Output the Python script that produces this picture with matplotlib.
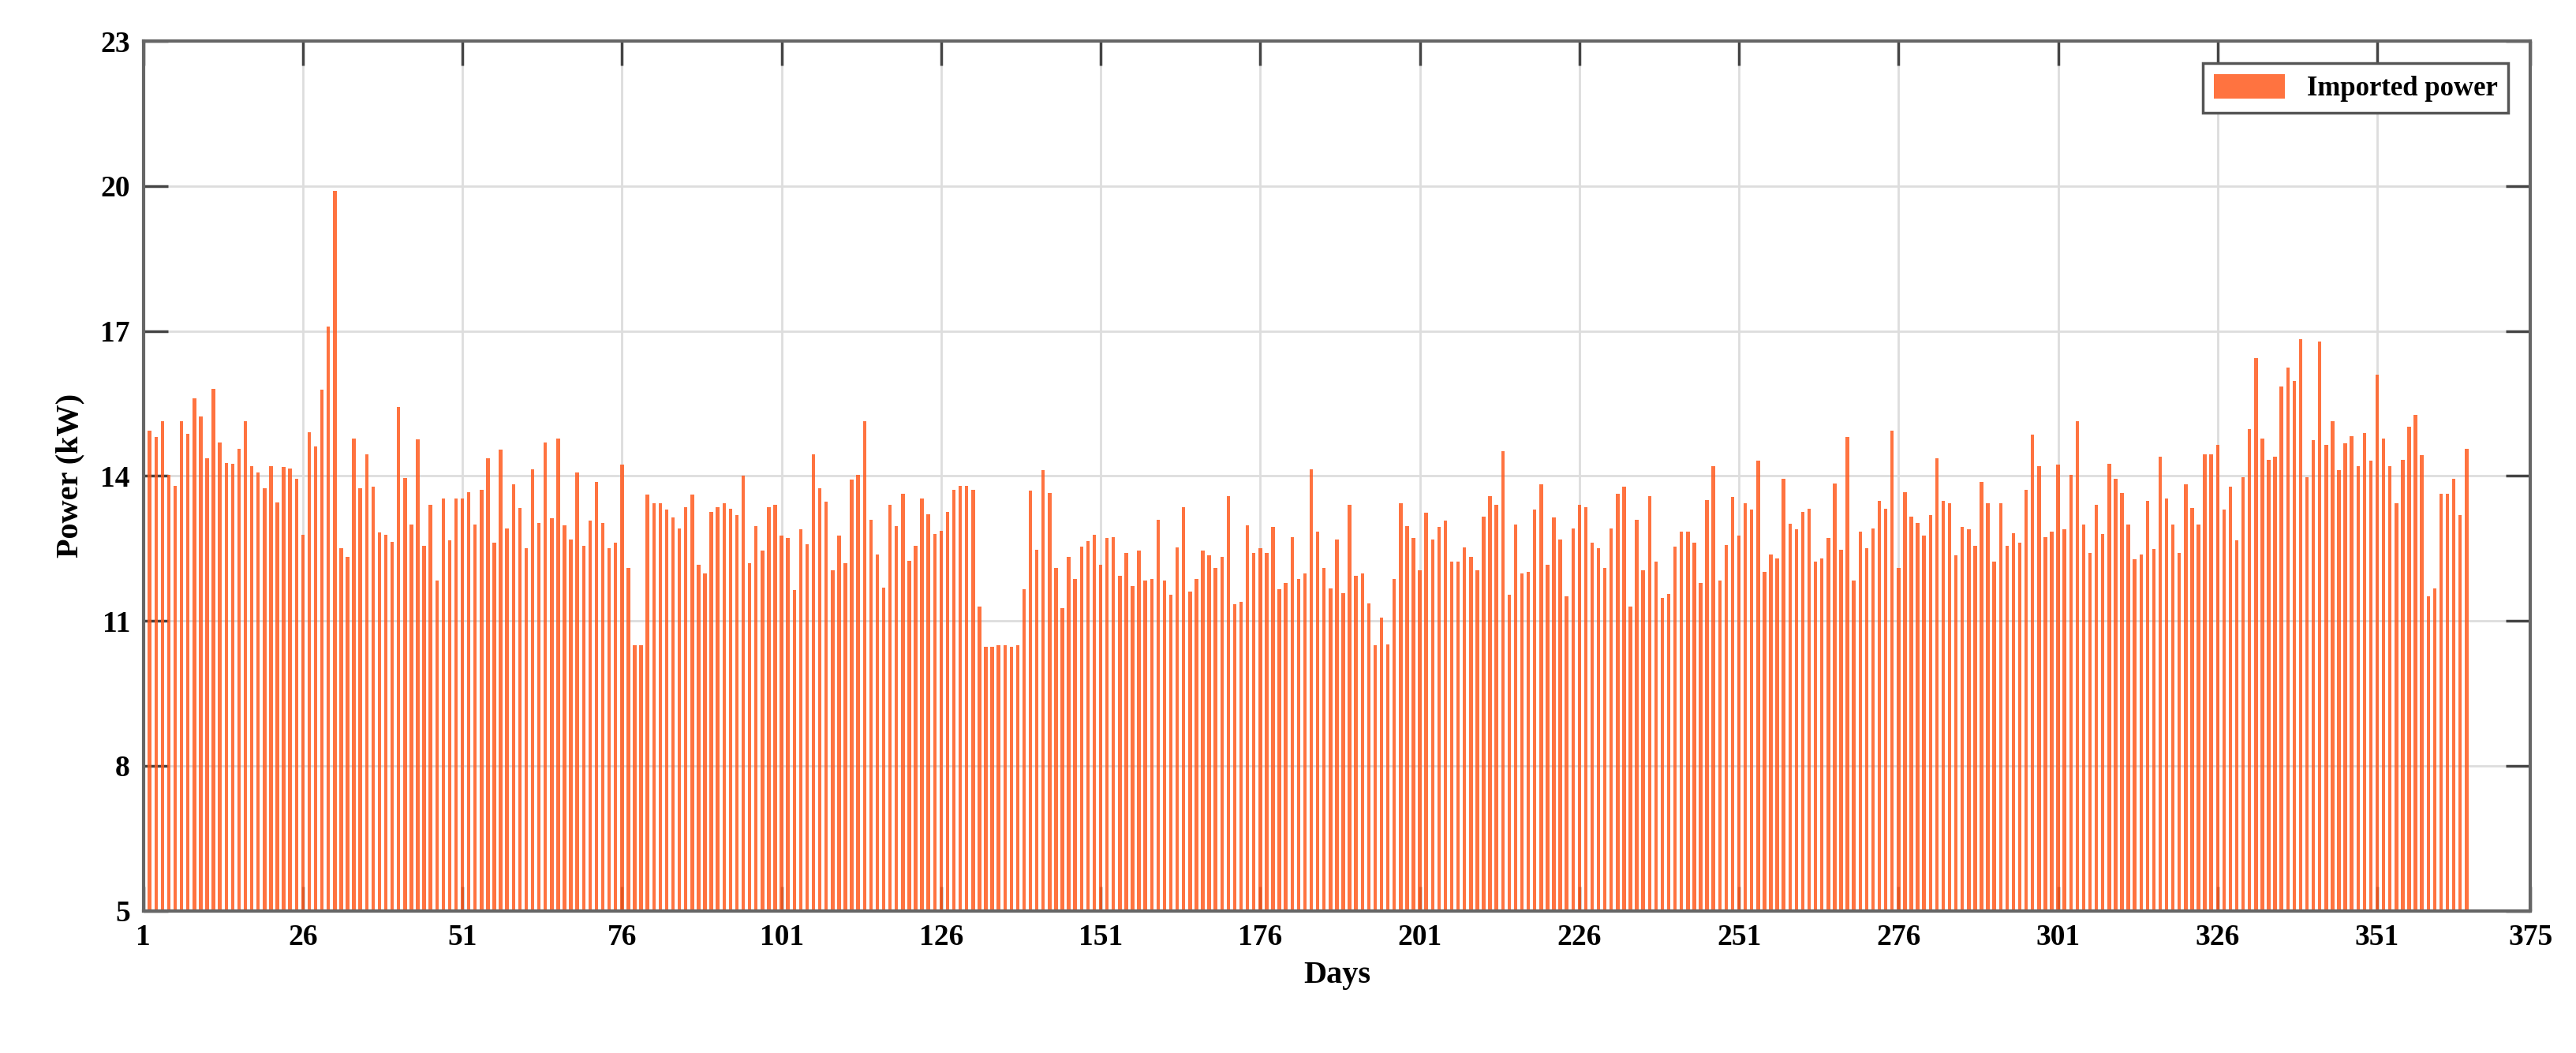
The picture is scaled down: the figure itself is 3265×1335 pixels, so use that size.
import numpy as np
import matplotlib.pyplot as plt

# daily imported power (kW), days 1..365
power_1_47 = [16.05, 14.94, 14.8, 15.14, 14.03, 13.8, 15.14, 14.88, 15.6, 15.23,
              14.37, 15.81, 14.69, 14.27, 14.25, 14.56, 15.13, 14.2, 14.07, 13.74,
              14.21, 13.45, 14.18, 14.15, 13.94, 12.79, 14.9, 14.61, 15.78, 17.1,
              19.9, 12.5, 12.32, 14.78, 13.74, 14.44, 13.78, 12.83, 12.79, 12.63,
              15.42, 13.96, 13.0, 14.76, 12.56, 13.4, 11.83]
power_48_96 = [13.54, 12.67, 13.54, 13.54, 13.67, 13.0, 13.71, 14.37, 12.62, 14.55,
               12.92, 13.83, 13.34, 12.51, 14.14, 13.03, 14.7, 13.13, 14.78, 12.98,
               12.69, 14.07, 12.56, 13.07, 13.87, 13.03, 12.51, 12.62, 14.23, 12.09,
               10.49, 10.5, 13.61, 13.43, 13.43, 13.3, 13.14, 12.92, 13.36, 13.61,
               12.17, 11.99, 13.25, 13.36, 13.43, 13.32, 13.19, 14.01]
power_97_143 = [12.2, 12.96, 12.45, 13.36, 13.4, 12.76, 12.72, 11.64, 12.9, 12.58,
                14.45, 13.74, 13.47, 12.04, 12.76, 12.2, 13.92, 14.03, 15.14, 13.1,
                12.38, 11.69, 13.41, 12.96, 13.63, 12.25, 12.56, 13.54, 13.2, 12.8,
                12.87, 13.25, 13.71, 13.8, 13.8, 13.72, 11.3, 10.47, 10.47, 10.49,
                10.49, 10.47, 10.49, 11.65, 13.69, 12.47, 14.12]
power_144_189 = [13.65, 12.09, 11.27, 12.33, 11.87, 12.54, 12.65, 12.79, 12.17, 12.72,
                 12.74, 11.94, 12.41, 11.72, 12.45, 11.83, 11.87, 13.1, 11.83, 11.54,
                 12.52, 13.36, 11.61, 11.87, 12.45, 12.36, 12.09, 12.32, 13.58, 11.34,
                 11.4, 12.98, 12.4, 12.51, 12.41, 12.95, 11.65, 11.78, 12.74, 11.87,
                 11.98, 14.14, 12.85, 12.09, 11.67, 12.69]
power_190_236 = [11.58, 13.4, 11.94, 11.98, 11.36, 10.49, 11.07, 10.52, 11.87, 13.43,
                 12.96, 12.71, 12.04, 13.24, 12.69, 12.95, 13.07, 12.23, 12.22, 12.52,
                 12.32, 12.05, 13.16, 13.58, 13.4, 14.51, 11.54, 13.0, 11.99, 12.01,
                 13.3, 13.83, 12.16, 13.14, 12.69, 11.51, 12.91, 13.4, 13.36, 12.62,
                 12.51, 12.09, 12.92, 13.63, 13.78, 11.3, 13.1]
power_237_283 = [12.05, 13.58, 12.23, 11.47, 11.56, 12.54, 12.85, 12.85, 12.62, 11.78,
                 13.5, 14.2, 11.83, 12.57, 13.56, 12.76, 13.43, 13.3, 14.31, 12.01,
                 12.38, 12.29, 13.94, 13.01, 12.9, 13.25, 13.32, 12.23, 12.29, 12.72,
                 13.85, 12.47, 14.81, 11.83, 12.85, 12.51, 12.91, 13.49, 13.32, 14.94,
                 12.09, 13.67, 13.16, 13.03, 12.76, 13.19, 14.36]
power_284_330 = [13.49, 13.43, 12.36, 12.95, 12.9, 12.56, 13.87, 13.43, 12.22, 13.43,
                 12.56, 12.81, 12.62, 13.72, 14.85, 14.2, 12.74, 12.85, 14.23, 12.9,
                 14.03, 15.14, 13.0, 12.41, 13.4, 12.8, 14.25, 13.94, 13.65, 13.0,
                 12.27, 12.38, 13.49, 12.49, 14.4, 13.54, 13.0, 12.41, 13.83, 13.34,
                 13.0, 14.45, 14.45, 14.65, 13.3, 13.78, 12.67]
power_331_365 = [13.98, 14.97, 16.44, 14.78, 14.34, 14.4, 15.85, 16.25, 15.96, 16.83,
                 13.98, 14.74, 16.78, 14.65, 15.14, 14.12, 14.67, 14.83, 14.21, 14.89,
                 14.31, 16.1, 14.78, 14.2, 13.43, 14.34, 15.02, 15.27, 14.43, 11.51,
                 11.67, 13.63, 13.63, 13.94, 13.19, 14.56]

power = np.array(power_1_47 + power_48_96 + power_97_143 + power_144_189 +
                 power_190_236 + power_237_283 + power_284_330 + power_331_365)
days = np.arange(1, len(power) + 1)

x_ticks = [1, 26, 51, 76, 101, 126, 151, 176, 201, 226, 251, 276, 301, 326, 351, 375]
y_ticks = [5, 8, 11, 14, 17, 20, 23]

plt.rcParams['font.family'] = ['Liberation Serif', 'DejaVu Serif']
plt.rcParams['font.weight'] = 'bold'

fig = plt.figure(figsize=(32.66, 13.35), dpi=100)
ax = fig.add_axes([0.0556, 0.135, 0.9264, 0.826])

ax.bar(days, power, width=0.55, color='#FF5A1E', alpha=0.85, label='Imported power', zorder=2)

ax.set_xlim(1, 375)
ax.set_ylim(5, 23)
ax.set_xticks(x_ticks)
ax.set_yticks(y_ticks)
ax.grid(True, color='#dddddd', linewidth=2, zorder=0)
ax.tick_params(axis='both', direction='in', length=22, width=2.5, labelsize=27,
               top=True, right=True, color='#444444', pad=12)
for lbl in ax.get_xticklabels() + ax.get_yticklabels():
    lbl.set_fontweight('bold')
for s in ax.spines.values():
    s.set_color('#666666')
    s.set_linewidth(3)

ax.set_xlabel('Days', fontsize=29, fontweight='bold', labelpad=8)
ax.set_ylabel('Power (kW)', fontsize=29, fontweight='bold', labelpad=14)

leg = ax.legend(loc='upper right', fontsize=25, fancybox=False, framealpha=1,
                borderaxespad=0.8, handlelength=2.6, handleheight=1.0)
leg.get_frame().set_edgecolor('#555555')
leg.get_frame().set_linewidth(2.5)
for t in leg.get_texts():
    t.set_fontweight('bold')

fig.savefig('out.png', dpi=100)
